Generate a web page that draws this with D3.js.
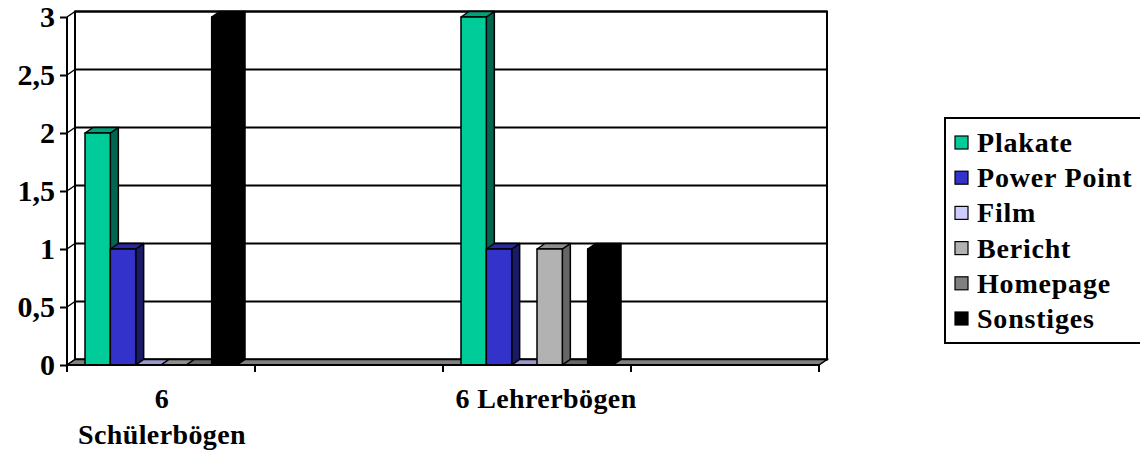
<!DOCTYPE html>
<html>
<head>
<meta charset="utf-8">
<script src="https://cdn.jsdelivr.net/npm/d3@7"></script>
<style>
  body { margin: 0; background: #fff; }
  text { font-family: "Liberation Serif", "Times New Roman", serif; font-weight: bold; }
</style>
</head>
<body>
<svg width="1140" height="451"></svg>
<script>
const categories = ["6 Schülerbögen", "", "6 Lehrerbögen", ""];
const series = ["Plakate", "Power Point", "Film", "Bericht", "Homepage", "Sonstiges"];
const values = [
  [2, 1, 0, 0, 0, 3],
  [null, null, null, null, null, null],
  [3, 1, 0, 1, 0, 1],
  [null, null, null, null, null, null]
];
const yTicks = [0, 0.5, 1, 1.5, 2, 2.5, 3];
const tickLabels = ["0", "0,5", "1", "1,5", "2", "2,5", "3"];

const fronts = ["#00CC99", "#3333CC", "#CCCCFF", "#B2B2B2", "#808080", "#000000"];
const sides  = ["#006650", "#1A1A66", "#66667F", "#666666", "#404040", "#000000"];
const tops   = ["#00A37A", "#2929A3", "#9999CC", "#8E8E8E", "#666666", "#000000"];

const svg = d3.select("svg");
const dx = 8, dy = -5.5;

const x0 = d3.scaleBand().domain(d3.range(categories.length)).range([67, 819]);
const x1 = d3.scaleBand().domain(d3.range(series.length)).range([18, 170]);
const y = d3.scaleLinear().domain([0, 3]).range([365, 17]);

const ln = d3.line();

// back wall
svg.append("rect")
    .attr("x", x0.range()[0] + dx).attr("y", y(3) + dy)
    .attr("width", x0.range()[1] - x0.range()[0]).attr("height", y(0) - y(3))
    .attr("fill", "#fff").attr("stroke", "#000").attr("stroke-width", 2);

// gridlines on back wall + left wall
yTicks.forEach(v => {
  svg.append("line")
      .attr("x1", x0.range()[0] + dx).attr("x2", x0.range()[1] + dx)
      .attr("y1", y(v) + dy).attr("y2", y(v) + dy)
      .attr("stroke", "#000").attr("stroke-width", 2);
  svg.append("line")
      .attr("x1", x0.range()[0]).attr("x2", x0.range()[0] + dx)
      .attr("y1", y(v)).attr("y2", y(v) + dy)
      .attr("stroke", "#000").attr("stroke-width", 1.5);
});

// floor
const fx0 = x0.range()[0], fx1 = x0.range()[1], fy = y(0);
svg.append("path")
    .attr("d", ln([[fx0, fy], [fx1, fy], [fx1 + dx, fy + dy], [fx0 + dx, fy + dy]]) + "Z")
    .attr("fill", "#808080").attr("stroke", "#000").attr("stroke-width", 1.5);

// bars
const barW = x1.bandwidth();
values.forEach((row, ci) => {
  row.forEach((v, si) => {
    if (v === null) return;
    const bx = x0(ci) + x1(si), by = y(v), b0 = y(0);
    const g = svg.append("g").attr("stroke", "#000").attr("stroke-width", 1.5).attr("stroke-linejoin", "round");
    if (v > 0) {
      g.append("path")
          .attr("d", ln([[bx + barW, by], [bx + barW + dx, by + dy], [bx + barW + dx, b0 + dy], [bx + barW, b0]]) + "Z")
          .attr("fill", sides[si]);
    }
    g.append("path")
        .attr("d", ln([[bx, by], [bx + dx, by + dy], [bx + barW + dx, by + dy], [bx + barW, by]]) + "Z")
        .attr("fill", tops[si]);
    if (v > 0) {
      g.append("rect")
          .attr("x", bx).attr("y", by).attr("width", barW).attr("height", b0 - by)
          .attr("fill", fronts[si]);
    }
  });
});

// front axes
svg.append("line")
    .attr("x1", fx0).attr("x2", fx0).attr("y1", y(3)).attr("y2", y(0))
    .attr("stroke", "#000").attr("stroke-width", 2);
svg.append("line")
    .attr("x1", fx0).attr("x2", fx1).attr("y1", y(0)).attr("y2", y(0))
    .attr("stroke", "#000").attr("stroke-width", 2);

const yAxis = svg.append("g")
    .attr("transform", `translate(${fx0},0)`)
    .call(d3.axisLeft(y).tickValues(yTicks).tickSize(7).tickPadding(5)
      .tickFormat((d, i) => tickLabels[i]));
yAxis.select(".domain").remove();
yAxis.selectAll("line").attr("stroke", "#000").attr("stroke-width", 2);
yAxis.selectAll("text").attr("font-size", 30).attr("fill", "#000")
    .attr("font-family", "Liberation Serif").attr("font-weight", "bold");

// category ticks
const bounds = x0.domain().map(d => x0(d)).concat([fx1]);
bounds.forEach(bx => {
  svg.append("line")
      .attr("x1", bx).attr("x2", bx).attr("y1", y(0)).attr("y2", y(0) + 7)
      .attr("stroke", "#000").attr("stroke-width", 2);
});

// category labels
const catLines = [["6", "Schülerbögen"], [], ["6 Lehrerbögen"], []];
const catShift = [1, 0, 9, 0];
catLines.forEach((lines, ci) => {
  lines.forEach((t, li) => {
    svg.append("text")
        .attr("x", x0(ci) + x0.bandwidth() / 2 + catShift[ci])
        .attr("y", 408 + li * 36)
        .attr("text-anchor", "middle")
        .attr("font-size", 28)
        .attr("letter-spacing", 0.4)
        .text(t);
  });
});

// legend
const lg = svg.append("g").attr("transform", "translate(945,118)");
lg.append("rect").attr("x", 0).attr("y", 0).attr("width", 205).attr("height", 225)
    .attr("fill", "#fff").attr("stroke", "#000").attr("stroke-width", 2);
series.forEach((s, i) => {
  const iy = 25 + i * 35.2;
  lg.append("rect").attr("x", 10).attr("y", iy - 7).attr("width", 13).attr("height", 13)
      .attr("fill", fronts[i]).attr("stroke", "#000").attr("stroke-width", 1.2);
  lg.append("text").attr("x", 32).attr("y", iy + 9)
      .attr("font-size", 28).attr("letter-spacing", 0.8).text(s);
});
</script>
</body>
</html>
